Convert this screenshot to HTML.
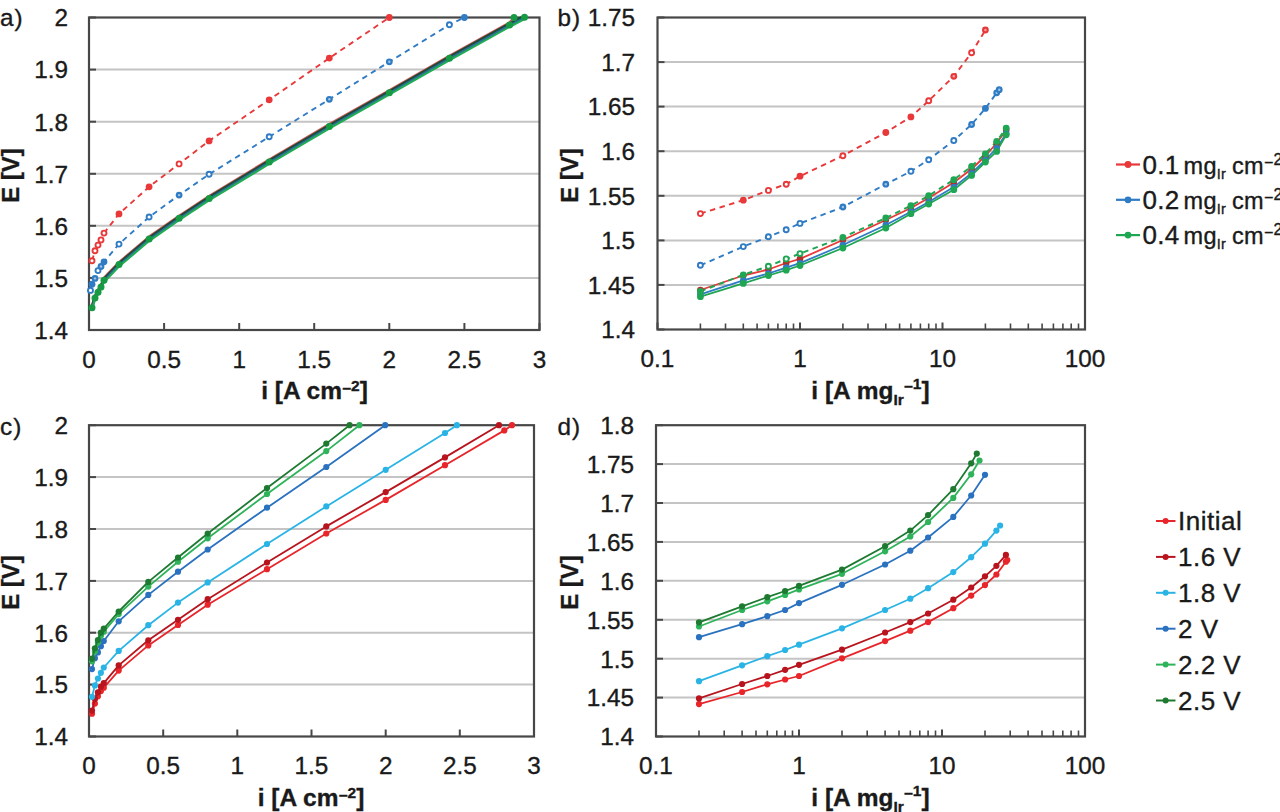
<!DOCTYPE html>
<html><head><meta charset="utf-8"><style>
html,body{margin:0;padding:0;background:#fff;width:1280px;height:812px;overflow:hidden}
svg{display:block}
</style></head><body>
<svg width="1280" height="812" viewBox="0 0 1280 812" font-family="Liberation Sans, sans-serif">
<rect width="1280" height="812" fill="#fff"/>
<g>
<line x1="89.0" y1="69.6" x2="539.5" y2="69.6" stroke="#c4c4c4" stroke-width="2"/>
<line x1="89.0" y1="121.7" x2="539.5" y2="121.7" stroke="#c4c4c4" stroke-width="2"/>
<line x1="89.0" y1="173.8" x2="539.5" y2="173.8" stroke="#c4c4c4" stroke-width="2"/>
<line x1="89.0" y1="225.8" x2="539.5" y2="225.8" stroke="#c4c4c4" stroke-width="2"/>
<line x1="89.0" y1="277.9" x2="539.5" y2="277.9" stroke="#c4c4c4" stroke-width="2"/>
<line x1="89.0" y1="17.5" x2="96.0" y2="17.5" stroke="#474747" stroke-width="2"/>
<line x1="89.0" y1="69.6" x2="96.0" y2="69.6" stroke="#474747" stroke-width="2"/>
<line x1="89.0" y1="121.7" x2="96.0" y2="121.7" stroke="#474747" stroke-width="2"/>
<line x1="89.0" y1="173.8" x2="96.0" y2="173.8" stroke="#474747" stroke-width="2"/>
<line x1="89.0" y1="225.8" x2="96.0" y2="225.8" stroke="#474747" stroke-width="2"/>
<line x1="89.0" y1="277.9" x2="96.0" y2="277.9" stroke="#474747" stroke-width="2"/>
<line x1="89.0" y1="330.0" x2="96.0" y2="330.0" stroke="#474747" stroke-width="2"/>
<line x1="89.0" y1="330.0" x2="89.0" y2="323.0" stroke="#474747" stroke-width="2"/>
<line x1="164.1" y1="330.0" x2="164.1" y2="323.0" stroke="#474747" stroke-width="2"/>
<line x1="239.2" y1="330.0" x2="239.2" y2="323.0" stroke="#474747" stroke-width="2"/>
<line x1="314.2" y1="330.0" x2="314.2" y2="323.0" stroke="#474747" stroke-width="2"/>
<line x1="389.3" y1="330.0" x2="389.3" y2="323.0" stroke="#474747" stroke-width="2"/>
<line x1="464.4" y1="330.0" x2="464.4" y2="323.0" stroke="#474747" stroke-width="2"/>
<line x1="539.5" y1="330.0" x2="539.5" y2="323.0" stroke="#474747" stroke-width="2"/>
<rect x="89.0" y="17.5" width="450.5" height="312.5" fill="none" stroke="#474747" stroke-width="2.2"/>
<text x="68" y="26.3" text-anchor="end" font-size="24.3" fill="#1a1a1a" stroke="#1a1a1a" stroke-width="0.35">2</text>
<text x="68" y="78.4" text-anchor="end" font-size="24.3" fill="#1a1a1a" stroke="#1a1a1a" stroke-width="0.35">1.9</text>
<text x="68" y="130.5" text-anchor="end" font-size="24.3" fill="#1a1a1a" stroke="#1a1a1a" stroke-width="0.35">1.8</text>
<text x="68" y="182.6" text-anchor="end" font-size="24.3" fill="#1a1a1a" stroke="#1a1a1a" stroke-width="0.35">1.7</text>
<text x="68" y="234.6" text-anchor="end" font-size="24.3" fill="#1a1a1a" stroke="#1a1a1a" stroke-width="0.35">1.6</text>
<text x="68" y="286.7" text-anchor="end" font-size="24.3" fill="#1a1a1a" stroke="#1a1a1a" stroke-width="0.35">1.5</text>
<text x="68" y="338.8" text-anchor="end" font-size="24.3" fill="#1a1a1a" stroke="#1a1a1a" stroke-width="0.35">1.4</text>
<text x="89.0" y="367.6" text-anchor="middle" font-size="24.3" fill="#1a1a1a" stroke="#1a1a1a" stroke-width="0.35">0</text>
<text x="164.1" y="367.6" text-anchor="middle" font-size="24.3" fill="#1a1a1a" stroke="#1a1a1a" stroke-width="0.35">0.5</text>
<text x="239.2" y="367.6" text-anchor="middle" font-size="24.3" fill="#1a1a1a" stroke="#1a1a1a" stroke-width="0.35">1</text>
<text x="314.2" y="367.6" text-anchor="middle" font-size="24.3" fill="#1a1a1a" stroke="#1a1a1a" stroke-width="0.35">1.5</text>
<text x="389.3" y="367.6" text-anchor="middle" font-size="24.3" fill="#1a1a1a" stroke="#1a1a1a" stroke-width="0.35">2</text>
<text x="464.4" y="367.6" text-anchor="middle" font-size="24.3" fill="#1a1a1a" stroke="#1a1a1a" stroke-width="0.35">2.5</text>
<text x="539.5" y="367.6" text-anchor="middle" font-size="24.3" fill="#1a1a1a" stroke="#1a1a1a" stroke-width="0.35">3</text>
<polyline points="92.0,305.1 95.0,295.2 98.0,289.5 101.0,284.3 104.0,277.5 119.0,261.9 149.1,236.4 179.1,215.5 209.1,195.8 269.2,159.3 329.3,123.9 389.3,90.0 449.4,55.6 509.5,22.3 514.0,17.5" fill="none" stroke="#d05a5a" stroke-width="2.0" stroke-linejoin="round"/>
<polyline points="92.0,306.5 95.0,296.6 98.0,290.9 101.0,285.7 104.0,278.9 119.0,263.3 149.1,237.8 179.1,216.9 209.1,197.2 269.2,160.7 329.3,125.3 389.3,91.4 449.4,57.0 509.5,23.7 524.5,15.9" fill="none" stroke="#1c4a34" stroke-width="2.6" stroke-linejoin="round"/>
<polyline points="92.0,308.3 95.0,298.4 98.0,292.7 101.0,287.5 104.0,280.7 119.0,265.1 149.1,239.6 179.1,218.7 209.1,198.9 269.2,162.5 329.3,127.1 389.3,93.2 449.4,58.8 509.5,25.5 524.5,17.7" fill="none" stroke="#2a6f9c" stroke-width="2.2" stroke-linejoin="round"/>
<polyline points="92.0,309.8 95.0,299.9 98.0,294.2 101.0,289.0 104.0,282.2 119.0,266.6 149.1,241.1 179.1,220.2 209.1,200.4 269.2,164.0 329.3,128.6 389.3,94.7 449.4,60.3 509.5,27.0 524.5,19.2" fill="none" stroke="#22ad52" stroke-width="2.0" stroke-linejoin="round"/>
<circle cx="92.0" cy="307.8" r="3.5" fill="#169a44"/>
<circle cx="95.0" cy="297.9" r="3.5" fill="#169a44"/>
<circle cx="98.0" cy="292.2" r="3.5" fill="#169a44"/>
<circle cx="101.0" cy="287.0" r="3.5" fill="#169a44"/>
<circle cx="104.0" cy="280.2" r="3.5" fill="#169a44"/>
<circle cx="119.0" cy="264.6" r="3.5" fill="#169a44"/>
<circle cx="149.1" cy="239.1" r="3.5" fill="#169a44"/>
<circle cx="179.1" cy="218.2" r="3.5" fill="#169a44"/>
<circle cx="209.1" cy="198.5" r="3.5" fill="#169a44"/>
<circle cx="269.2" cy="162.0" r="3.5" fill="#169a44"/>
<circle cx="329.3" cy="126.6" r="3.5" fill="#169a44"/>
<circle cx="389.3" cy="92.7" r="3.5" fill="#169a44"/>
<circle cx="449.4" cy="58.3" r="3.5" fill="#169a44"/>
<circle cx="509.5" cy="25.0" r="3.5" fill="#169a44"/>
<circle cx="524.5" cy="17.2" r="3.5" fill="#169a44"/>
<circle cx="514.0" cy="17.5" r="3.5" fill="#169a44"/>
<polyline points="90.5,290.4 92.0,284.2 95.0,278.4 98.0,270.6 101.0,266.5 104.0,261.8 119.0,244.1 149.1,217.0 179.1,195.1 209.1,174.3 269.2,136.8 329.3,99.3 389.3,61.8 449.4,24.8 464.4,17.5" fill="none" stroke="#2f7bc4" stroke-width="1.9" stroke-dasharray="5.5 4.5" stroke-linejoin="round"/>
<circle cx="90.5" cy="290.4" r="2.5" fill="#fff" stroke="#2f7bc4" stroke-width="1.9"/>
<circle cx="92.0" cy="284.2" r="3.4" fill="#2f7bc4"/>
<circle cx="95.0" cy="278.4" r="3.4" fill="#2f7bc4"/><circle cx="95.0" cy="278.4" r="1.2" fill="#fff" fill-opacity="0.55"/>
<circle cx="98.0" cy="270.6" r="2.5" fill="#fff" stroke="#2f7bc4" stroke-width="1.9"/>
<circle cx="101.0" cy="266.5" r="3.4" fill="#2f7bc4"/><circle cx="101.0" cy="266.5" r="1.2" fill="#fff" fill-opacity="0.55"/>
<circle cx="104.0" cy="261.8" r="3.4" fill="#2f7bc4"/>
<circle cx="119.0" cy="244.1" r="2.5" fill="#fff" stroke="#2f7bc4" stroke-width="1.9"/>
<circle cx="149.1" cy="217.0" r="2.5" fill="#fff" stroke="#2f7bc4" stroke-width="1.9"/>
<circle cx="179.1" cy="195.1" r="3.4" fill="#2f7bc4"/><circle cx="179.1" cy="195.1" r="1.2" fill="#fff" fill-opacity="0.55"/>
<circle cx="209.1" cy="174.3" r="2.5" fill="#fff" stroke="#2f7bc4" stroke-width="1.9"/>
<circle cx="269.2" cy="136.8" r="2.5" fill="#fff" stroke="#2f7bc4" stroke-width="1.9"/>
<circle cx="329.3" cy="99.3" r="3.4" fill="#2f7bc4"/><circle cx="329.3" cy="99.3" r="1.2" fill="#fff" fill-opacity="0.55"/>
<circle cx="389.3" cy="61.8" r="3.4" fill="#2f7bc4"/><circle cx="389.3" cy="61.8" r="1.2" fill="#fff" fill-opacity="0.55"/>
<circle cx="449.4" cy="24.8" r="2.5" fill="#fff" stroke="#2f7bc4" stroke-width="1.9"/>
<circle cx="464.4" cy="17.5" r="3.4" fill="#2f7bc4"/>
<polyline points="92.0,260.7 95.0,250.8 98.0,245.1 101.0,239.9 104.0,233.1 119.0,213.9 149.1,186.8 179.1,163.9 209.1,140.9 269.2,99.8 329.3,58.1 389.3,17.5" fill="none" stroke="#e8383a" stroke-width="1.9" stroke-dasharray="5.5 4.5" stroke-linejoin="round"/>
<circle cx="92.0" cy="260.7" r="2.5" fill="#fff" stroke="#e8383a" stroke-width="1.9"/>
<circle cx="95.0" cy="250.8" r="2.5" fill="#fff" stroke="#e8383a" stroke-width="1.9"/>
<circle cx="98.0" cy="245.1" r="2.5" fill="#fff" stroke="#e8383a" stroke-width="1.9"/>
<circle cx="101.0" cy="239.9" r="2.5" fill="#fff" stroke="#e8383a" stroke-width="1.9"/>
<circle cx="104.0" cy="233.1" r="2.5" fill="#fff" stroke="#e8383a" stroke-width="1.9"/>
<circle cx="119.0" cy="213.9" r="3.4" fill="#e8383a"/>
<circle cx="149.1" cy="186.8" r="3.4" fill="#e8383a"/>
<circle cx="179.1" cy="163.9" r="2.5" fill="#fff" stroke="#e8383a" stroke-width="1.9"/>
<circle cx="209.1" cy="140.9" r="3.4" fill="#e8383a"/>
<circle cx="269.2" cy="99.8" r="3.4" fill="#e8383a"/>
<circle cx="329.3" cy="58.1" r="3.4" fill="#e8383a"/>
<circle cx="389.3" cy="17.5" r="3.4" fill="#e8383a"/>
<text x="0" y="26.3" font-size="24.3" letter-spacing="1" fill="#1a1a1a" stroke="#1a1a1a" stroke-width="0.35">a)</text>
<text transform="translate(18.5,175.5) rotate(-90)" text-anchor="middle" font-size="24" font-weight="bold" fill="#1a1a1a" stroke="#1a1a1a" stroke-width="0.35">E [V]</text>
<text x="314.5" y="399" text-anchor="middle" font-size="24.5" font-weight="bold" fill="#1a1a1a" stroke="#1a1a1a" stroke-width="0.35">i [A cm<tspan font-size="15.5" dy="-5.5">−</tspan><tspan font-size="15.5" dy="-2.5">2</tspan><tspan dy="8">]</tspan></text>
<line x1="657.5" y1="62.1" x2="1085.0" y2="62.1" stroke="#c4c4c4" stroke-width="2"/>
<line x1="657.5" y1="106.6" x2="1085.0" y2="106.6" stroke="#c4c4c4" stroke-width="2"/>
<line x1="657.5" y1="151.2" x2="1085.0" y2="151.2" stroke="#c4c4c4" stroke-width="2"/>
<line x1="657.5" y1="195.8" x2="1085.0" y2="195.8" stroke="#c4c4c4" stroke-width="2"/>
<line x1="657.5" y1="240.4" x2="1085.0" y2="240.4" stroke="#c4c4c4" stroke-width="2"/>
<line x1="657.5" y1="284.9" x2="1085.0" y2="284.9" stroke="#c4c4c4" stroke-width="2"/>
<line x1="657.5" y1="17.5" x2="664.5" y2="17.5" stroke="#474747" stroke-width="2"/>
<line x1="657.5" y1="62.1" x2="664.5" y2="62.1" stroke="#474747" stroke-width="2"/>
<line x1="657.5" y1="106.6" x2="664.5" y2="106.6" stroke="#474747" stroke-width="2"/>
<line x1="657.5" y1="151.2" x2="664.5" y2="151.2" stroke="#474747" stroke-width="2"/>
<line x1="657.5" y1="195.8" x2="664.5" y2="195.8" stroke="#474747" stroke-width="2"/>
<line x1="657.5" y1="240.4" x2="664.5" y2="240.4" stroke="#474747" stroke-width="2"/>
<line x1="657.5" y1="284.9" x2="664.5" y2="284.9" stroke="#474747" stroke-width="2"/>
<line x1="657.5" y1="329.5" x2="664.5" y2="329.5" stroke="#474747" stroke-width="2"/>
<line x1="657.5" y1="329.5" x2="657.5" y2="322.5" stroke="#474747" stroke-width="2"/>
<line x1="800.0" y1="329.5" x2="800.0" y2="322.5" stroke="#474747" stroke-width="2"/>
<line x1="942.5" y1="329.5" x2="942.5" y2="322.5" stroke="#474747" stroke-width="2"/>
<line x1="1085.0" y1="329.5" x2="1085.0" y2="322.5" stroke="#474747" stroke-width="2"/>
<line x1="700.4" y1="329.5" x2="700.4" y2="323.5" stroke="#474747" stroke-width="1.6"/>
<line x1="725.5" y1="329.5" x2="725.5" y2="323.5" stroke="#474747" stroke-width="1.6"/>
<line x1="743.3" y1="329.5" x2="743.3" y2="323.5" stroke="#474747" stroke-width="1.6"/>
<line x1="757.1" y1="329.5" x2="757.1" y2="323.5" stroke="#474747" stroke-width="1.6"/>
<line x1="768.4" y1="329.5" x2="768.4" y2="323.5" stroke="#474747" stroke-width="1.6"/>
<line x1="777.9" y1="329.5" x2="777.9" y2="323.5" stroke="#474747" stroke-width="1.6"/>
<line x1="786.2" y1="329.5" x2="786.2" y2="323.5" stroke="#474747" stroke-width="1.6"/>
<line x1="793.5" y1="329.5" x2="793.5" y2="323.5" stroke="#474747" stroke-width="1.6"/>
<line x1="842.9" y1="329.5" x2="842.9" y2="323.5" stroke="#474747" stroke-width="1.6"/>
<line x1="868.0" y1="329.5" x2="868.0" y2="323.5" stroke="#474747" stroke-width="1.6"/>
<line x1="885.8" y1="329.5" x2="885.8" y2="323.5" stroke="#474747" stroke-width="1.6"/>
<line x1="899.6" y1="329.5" x2="899.6" y2="323.5" stroke="#474747" stroke-width="1.6"/>
<line x1="910.9" y1="329.5" x2="910.9" y2="323.5" stroke="#474747" stroke-width="1.6"/>
<line x1="920.4" y1="329.5" x2="920.4" y2="323.5" stroke="#474747" stroke-width="1.6"/>
<line x1="928.7" y1="329.5" x2="928.7" y2="323.5" stroke="#474747" stroke-width="1.6"/>
<line x1="936.0" y1="329.5" x2="936.0" y2="323.5" stroke="#474747" stroke-width="1.6"/>
<line x1="985.4" y1="329.5" x2="985.4" y2="323.5" stroke="#474747" stroke-width="1.6"/>
<line x1="1010.5" y1="329.5" x2="1010.5" y2="323.5" stroke="#474747" stroke-width="1.6"/>
<line x1="1028.3" y1="329.5" x2="1028.3" y2="323.5" stroke="#474747" stroke-width="1.6"/>
<line x1="1042.1" y1="329.5" x2="1042.1" y2="323.5" stroke="#474747" stroke-width="1.6"/>
<line x1="1053.4" y1="329.5" x2="1053.4" y2="323.5" stroke="#474747" stroke-width="1.6"/>
<line x1="1062.9" y1="329.5" x2="1062.9" y2="323.5" stroke="#474747" stroke-width="1.6"/>
<line x1="1071.2" y1="329.5" x2="1071.2" y2="323.5" stroke="#474747" stroke-width="1.6"/>
<line x1="1078.5" y1="329.5" x2="1078.5" y2="323.5" stroke="#474747" stroke-width="1.6"/>
<rect x="657.5" y="17.5" width="427.5" height="312.0" fill="none" stroke="#474747" stroke-width="2.2"/>
<text x="635" y="26.3" text-anchor="end" font-size="24.3" fill="#1a1a1a" stroke="#1a1a1a" stroke-width="0.35">1.75</text>
<text x="635" y="70.9" text-anchor="end" font-size="24.3" fill="#1a1a1a" stroke="#1a1a1a" stroke-width="0.35">1.7</text>
<text x="635" y="115.4" text-anchor="end" font-size="24.3" fill="#1a1a1a" stroke="#1a1a1a" stroke-width="0.35">1.65</text>
<text x="635" y="160.0" text-anchor="end" font-size="24.3" fill="#1a1a1a" stroke="#1a1a1a" stroke-width="0.35">1.6</text>
<text x="635" y="204.6" text-anchor="end" font-size="24.3" fill="#1a1a1a" stroke="#1a1a1a" stroke-width="0.35">1.55</text>
<text x="635" y="249.2" text-anchor="end" font-size="24.3" fill="#1a1a1a" stroke="#1a1a1a" stroke-width="0.35">1.5</text>
<text x="635" y="293.7" text-anchor="end" font-size="24.3" fill="#1a1a1a" stroke="#1a1a1a" stroke-width="0.35">1.45</text>
<text x="635" y="338.3" text-anchor="end" font-size="24.3" fill="#1a1a1a" stroke="#1a1a1a" stroke-width="0.35">1.4</text>
<text x="657.5" y="367.1" text-anchor="middle" font-size="24.3" fill="#1a1a1a" stroke="#1a1a1a" stroke-width="0.35">0.1</text>
<text x="800.0" y="367.1" text-anchor="middle" font-size="24.3" fill="#1a1a1a" stroke="#1a1a1a" stroke-width="0.35">1</text>
<text x="942.5" y="367.1" text-anchor="middle" font-size="24.3" fill="#1a1a1a" stroke="#1a1a1a" stroke-width="0.35">10</text>
<text x="1085.0" y="367.1" text-anchor="middle" font-size="24.3" fill="#1a1a1a" stroke="#1a1a1a" stroke-width="0.35">100</text>
<polyline points="700.4,290.0 743.3,275.5 768.4,269.5 786.2,263.0 800.0,258.9 842.9,240.0 885.8,220.0 910.9,208.0 928.7,198.0 953.8,182.5 971.6,169.0 985.4,156.0 996.7,143.0 1006.2,130.0" fill="none" stroke="#e8383a" stroke-width="1.8" stroke-linejoin="round"/>
<polyline points="700.4,294.4 743.3,280.4 768.4,273.5 786.2,267.6 800.0,263.2 842.9,245.0 885.8,225.0 910.9,211.8 928.7,202.0 953.8,187.1 971.6,173.2 985.4,160.0 996.7,148.2 1006.2,133.4" fill="none" stroke="#2f7bc4" stroke-width="1.8" stroke-linejoin="round"/>
<polyline points="700.4,296.7 743.3,283.4 768.4,275.5 786.2,270.2 800.0,265.5 842.9,248.0 885.8,228.0 910.9,213.7 928.7,204.0 953.8,189.7 971.6,175.4 985.4,162.0 996.7,151.4 1006.2,134.8" fill="none" stroke="#1fa653" stroke-width="1.8" stroke-linejoin="round"/>
<polyline points="700.4,291.4 743.3,274.8 768.4,266.2 786.2,258.9 800.0,253.6 842.9,237.3 885.8,218.0 910.9,205.7 928.7,195.7 953.8,179.7 971.6,166.4 985.4,153.8 996.7,141.4 1006.2,128.1" fill="none" stroke="#1fa653" stroke-width="2.0" stroke-dasharray="5.5 4.5" stroke-linejoin="round"/>
<circle cx="700.4" cy="290.0" r="3.3" fill="#b0302a"/>
<circle cx="743.3" cy="275.5" r="3.3" fill="#b0302a"/>
<circle cx="768.4" cy="269.5" r="3.3" fill="#b0302a"/>
<circle cx="786.2" cy="263.0" r="3.3" fill="#b0302a"/>
<circle cx="800.0" cy="258.9" r="3.3" fill="#b0302a"/>
<circle cx="842.9" cy="240.0" r="3.3" fill="#b0302a"/>
<circle cx="885.8" cy="220.0" r="3.3" fill="#b0302a"/>
<circle cx="910.9" cy="208.0" r="3.3" fill="#b0302a"/>
<circle cx="928.7" cy="198.0" r="3.3" fill="#b0302a"/>
<circle cx="953.8" cy="182.5" r="3.3" fill="#b0302a"/>
<circle cx="971.6" cy="169.0" r="3.3" fill="#b0302a"/>
<circle cx="985.4" cy="156.0" r="3.3" fill="#b0302a"/>
<circle cx="996.7" cy="143.0" r="3.3" fill="#b0302a"/>
<circle cx="1006.2" cy="130.0" r="3.3" fill="#b0302a"/>
<circle cx="700.4" cy="294.4" r="3.3" fill="#2f7bc4"/>
<circle cx="743.3" cy="280.4" r="3.3" fill="#2f7bc4"/>
<circle cx="768.4" cy="273.5" r="3.3" fill="#2f7bc4"/>
<circle cx="786.2" cy="267.6" r="3.3" fill="#2f7bc4"/>
<circle cx="800.0" cy="263.2" r="3.3" fill="#2f7bc4"/>
<circle cx="842.9" cy="245.0" r="3.3" fill="#2f7bc4"/>
<circle cx="885.8" cy="225.0" r="3.3" fill="#2f7bc4"/>
<circle cx="910.9" cy="211.8" r="3.3" fill="#2f7bc4"/>
<circle cx="928.7" cy="202.0" r="3.3" fill="#2f7bc4"/>
<circle cx="953.8" cy="187.1" r="3.3" fill="#2f7bc4"/>
<circle cx="971.6" cy="173.2" r="3.3" fill="#2f7bc4"/>
<circle cx="985.4" cy="160.0" r="3.3" fill="#2f7bc4"/>
<circle cx="996.7" cy="148.2" r="3.3" fill="#2f7bc4"/>
<circle cx="1006.2" cy="133.4" r="3.3" fill="#2f7bc4"/>
<circle cx="700.4" cy="296.7" r="3.4" fill="#1fa653"/>
<circle cx="743.3" cy="283.4" r="3.4" fill="#1fa653"/>
<circle cx="768.4" cy="275.5" r="3.4" fill="#1fa653"/>
<circle cx="786.2" cy="270.2" r="3.4" fill="#1fa653"/>
<circle cx="800.0" cy="265.5" r="3.4" fill="#1fa653"/>
<circle cx="842.9" cy="248.0" r="3.4" fill="#1fa653"/>
<circle cx="885.8" cy="228.0" r="3.4" fill="#1fa653"/>
<circle cx="910.9" cy="213.7" r="3.4" fill="#1fa653"/>
<circle cx="928.7" cy="204.0" r="3.4" fill="#1fa653"/>
<circle cx="953.8" cy="189.7" r="3.4" fill="#1fa653"/>
<circle cx="971.6" cy="175.4" r="3.4" fill="#1fa653"/>
<circle cx="985.4" cy="162.0" r="3.4" fill="#1fa653"/>
<circle cx="996.7" cy="151.4" r="3.4" fill="#1fa653"/>
<circle cx="1006.2" cy="134.8" r="3.4" fill="#1fa653"/>
<circle cx="700.4" cy="291.4" r="3.4" fill="#1fa653"/>
<circle cx="743.3" cy="274.8" r="3.4" fill="#1fa653"/>
<circle cx="768.4" cy="266.2" r="2.5" fill="#fff" stroke="#1fa653" stroke-width="1.9"/>
<circle cx="786.2" cy="258.9" r="2.5" fill="#fff" stroke="#1fa653" stroke-width="1.9"/>
<circle cx="800.0" cy="253.6" r="2.5" fill="#fff" stroke="#1fa653" stroke-width="1.9"/>
<circle cx="842.9" cy="237.3" r="3.4" fill="#1fa653"/>
<circle cx="885.8" cy="218.0" r="3.4" fill="#1fa653"/>
<circle cx="910.9" cy="205.7" r="3.4" fill="#1fa653"/>
<circle cx="928.7" cy="195.7" r="3.4" fill="#1fa653"/>
<circle cx="953.8" cy="179.7" r="3.4" fill="#1fa653"/>
<circle cx="971.6" cy="166.4" r="3.4" fill="#1fa653"/>
<circle cx="985.4" cy="153.8" r="3.4" fill="#1fa653"/>
<circle cx="996.7" cy="141.4" r="3.4" fill="#1fa653"/>
<circle cx="1006.2" cy="128.1" r="3.4" fill="#1fa653"/>
<polyline points="700.4,265.3 743.3,246.6 768.4,236.8 786.2,229.7 800.0,223.4 842.9,207.0 885.8,184.2 910.9,171.3 928.7,159.7 953.8,140.5 971.6,124.5 985.4,108.4 996.7,92.8 999.2,89.7" fill="none" stroke="#2f7bc4" stroke-width="1.9" stroke-dasharray="5.5 4.5" stroke-linejoin="round"/>
<circle cx="700.4" cy="265.3" r="2.5" fill="#fff" stroke="#2f7bc4" stroke-width="1.9"/>
<circle cx="743.3" cy="246.6" r="2.5" fill="#fff" stroke="#2f7bc4" stroke-width="1.9"/>
<circle cx="768.4" cy="236.8" r="2.5" fill="#fff" stroke="#2f7bc4" stroke-width="1.9"/>
<circle cx="786.2" cy="229.7" r="2.5" fill="#fff" stroke="#2f7bc4" stroke-width="1.9"/>
<circle cx="800.0" cy="223.4" r="2.5" fill="#fff" stroke="#2f7bc4" stroke-width="1.9"/>
<circle cx="842.9" cy="207.0" r="3.4" fill="#2f7bc4"/><circle cx="842.9" cy="207.0" r="1.2" fill="#fff" fill-opacity="0.55"/>
<circle cx="885.8" cy="184.2" r="3.4" fill="#2f7bc4"/><circle cx="885.8" cy="184.2" r="1.2" fill="#fff" fill-opacity="0.55"/>
<circle cx="910.9" cy="171.3" r="2.5" fill="#fff" stroke="#2f7bc4" stroke-width="1.9"/>
<circle cx="928.7" cy="159.7" r="2.5" fill="#fff" stroke="#2f7bc4" stroke-width="1.9"/>
<circle cx="953.8" cy="140.5" r="2.5" fill="#fff" stroke="#2f7bc4" stroke-width="1.9"/>
<circle cx="971.6" cy="124.5" r="3.4" fill="#2f7bc4"/><circle cx="971.6" cy="124.5" r="1.2" fill="#fff" fill-opacity="0.55"/>
<circle cx="985.4" cy="108.4" r="3.4" fill="#2f7bc4"/>
<circle cx="996.7" cy="92.8" r="3.4" fill="#2f7bc4"/><circle cx="996.7" cy="92.8" r="1.2" fill="#fff" fill-opacity="0.55"/>
<circle cx="999.2" cy="89.7" r="3.4" fill="#2f7bc4"/><circle cx="999.2" cy="89.7" r="1.2" fill="#fff" fill-opacity="0.55"/>
<polyline points="700.4,213.6 743.3,200.2 768.4,190.4 786.2,184.2 800.0,176.2 842.9,155.7 885.8,132.5 910.9,116.9 928.7,100.8 953.8,76.3 971.6,52.7 985.4,30.0" fill="none" stroke="#e8383a" stroke-width="1.9" stroke-dasharray="5.5 4.5" stroke-linejoin="round"/>
<circle cx="700.4" cy="213.6" r="2.5" fill="#fff" stroke="#e8383a" stroke-width="1.9"/>
<circle cx="743.3" cy="200.2" r="3.4" fill="#e8383a"/>
<circle cx="768.4" cy="190.4" r="2.5" fill="#fff" stroke="#e8383a" stroke-width="1.9"/>
<circle cx="786.2" cy="184.2" r="2.5" fill="#fff" stroke="#e8383a" stroke-width="1.9"/>
<circle cx="800.0" cy="176.2" r="3.4" fill="#e8383a"/>
<circle cx="842.9" cy="155.7" r="2.5" fill="#fff" stroke="#e8383a" stroke-width="1.9"/>
<circle cx="885.8" cy="132.5" r="3.4" fill="#e8383a"/>
<circle cx="910.9" cy="116.9" r="3.4" fill="#e8383a"/>
<circle cx="928.7" cy="100.8" r="2.5" fill="#fff" stroke="#e8383a" stroke-width="1.9"/>
<circle cx="953.8" cy="76.3" r="3.4" fill="#e8383a"/><circle cx="953.8" cy="76.3" r="1.2" fill="#fff" fill-opacity="0.55"/>
<circle cx="971.6" cy="52.7" r="2.5" fill="#fff" stroke="#e8383a" stroke-width="1.9"/>
<circle cx="985.4" cy="30.0" r="3.4" fill="#e8383a"/><circle cx="985.4" cy="30.0" r="1.2" fill="#fff" fill-opacity="0.55"/>
<text x="557.5" y="26.3" font-size="24.3" letter-spacing="1" fill="#1a1a1a" stroke="#1a1a1a" stroke-width="0.35">b)</text>
<text transform="translate(577.5,175.5) rotate(-90)" text-anchor="middle" font-size="24" font-weight="bold" fill="#1a1a1a" stroke="#1a1a1a" stroke-width="0.35">E [V]</text>
<text x="870.5" y="399" text-anchor="middle" font-size="24.5" font-weight="bold" fill="#1a1a1a" stroke="#1a1a1a" stroke-width="0.35">i [A mg<tspan font-size="15.5" dy="6">Ir</tspan><tspan font-size="15.5" dy="-13">−</tspan><tspan font-size="15.5" dy="-3">1</tspan><tspan dy="10">]</tspan></text>
<line x1="1116" y1="164.5" x2="1140" y2="164.5" stroke="#e8383a" stroke-width="2.2"/>
<circle cx="1128" cy="164.5" r="3.4" fill="#e8383a"/>
<text x="1142.5" y="173.8" font-size="26" letter-spacing="0.3" fill="#1a1a1a" stroke="#1a1a1a" stroke-width="0.35">0.1</text>
<text x="1183.5" y="173.8" font-size="23.5" letter-spacing="0.3" fill="#1a1a1a" stroke="#1a1a1a" stroke-width="0.35">mg<tspan font-size="14.5" dy="5">Ir</tspan><tspan x="1232" dy="-5">cm</tspan><tspan font-size="16" dy="-6">−</tspan><tspan font-size="16" dy="-3">2</tspan></text>
<line x1="1116" y1="199.8" x2="1140" y2="199.8" stroke="#2f7bc4" stroke-width="2.2"/>
<circle cx="1128" cy="199.8" r="3.4" fill="#2f7bc4"/>
<text x="1142.5" y="209.10000000000002" font-size="26" letter-spacing="0.3" fill="#1a1a1a" stroke="#1a1a1a" stroke-width="0.35">0.2</text>
<text x="1183.5" y="209.10000000000002" font-size="23.5" letter-spacing="0.3" fill="#1a1a1a" stroke="#1a1a1a" stroke-width="0.35">mg<tspan font-size="14.5" dy="5">Ir</tspan><tspan x="1232" dy="-5">cm</tspan><tspan font-size="16" dy="-6">−</tspan><tspan font-size="16" dy="-3">2</tspan></text>
<line x1="1116" y1="235.1" x2="1140" y2="235.1" stroke="#1fa653" stroke-width="2.2"/>
<circle cx="1128" cy="235.1" r="3.4" fill="#1fa653"/>
<text x="1142.5" y="244.4" font-size="26" letter-spacing="0.3" fill="#1a1a1a" stroke="#1a1a1a" stroke-width="0.35">0.4</text>
<text x="1183.5" y="244.4" font-size="23.5" letter-spacing="0.3" fill="#1a1a1a" stroke="#1a1a1a" stroke-width="0.35">mg<tspan font-size="14.5" dy="5">Ir</tspan><tspan x="1232" dy="-5">cm</tspan><tspan font-size="16" dy="-6">−</tspan><tspan font-size="16" dy="-3">2</tspan></text>
<line x1="89.0" y1="477.1" x2="534.0" y2="477.1" stroke="#c4c4c4" stroke-width="2"/>
<line x1="89.0" y1="529.0" x2="534.0" y2="529.0" stroke="#c4c4c4" stroke-width="2"/>
<line x1="89.0" y1="580.9" x2="534.0" y2="580.9" stroke="#c4c4c4" stroke-width="2"/>
<line x1="89.0" y1="632.7" x2="534.0" y2="632.7" stroke="#c4c4c4" stroke-width="2"/>
<line x1="89.0" y1="684.6" x2="534.0" y2="684.6" stroke="#c4c4c4" stroke-width="2"/>
<line x1="89.0" y1="425.2" x2="96.0" y2="425.2" stroke="#474747" stroke-width="2"/>
<line x1="89.0" y1="477.1" x2="96.0" y2="477.1" stroke="#474747" stroke-width="2"/>
<line x1="89.0" y1="529.0" x2="96.0" y2="529.0" stroke="#474747" stroke-width="2"/>
<line x1="89.0" y1="580.9" x2="96.0" y2="580.9" stroke="#474747" stroke-width="2"/>
<line x1="89.0" y1="632.7" x2="96.0" y2="632.7" stroke="#474747" stroke-width="2"/>
<line x1="89.0" y1="684.6" x2="96.0" y2="684.6" stroke="#474747" stroke-width="2"/>
<line x1="89.0" y1="736.5" x2="96.0" y2="736.5" stroke="#474747" stroke-width="2"/>
<line x1="89.0" y1="736.5" x2="89.0" y2="729.5" stroke="#474747" stroke-width="2"/>
<line x1="163.2" y1="736.5" x2="163.2" y2="729.5" stroke="#474747" stroke-width="2"/>
<line x1="237.3" y1="736.5" x2="237.3" y2="729.5" stroke="#474747" stroke-width="2"/>
<line x1="311.5" y1="736.5" x2="311.5" y2="729.5" stroke="#474747" stroke-width="2"/>
<line x1="385.7" y1="736.5" x2="385.7" y2="729.5" stroke="#474747" stroke-width="2"/>
<line x1="459.8" y1="736.5" x2="459.8" y2="729.5" stroke="#474747" stroke-width="2"/>
<line x1="534.0" y1="736.5" x2="534.0" y2="729.5" stroke="#474747" stroke-width="2"/>
<rect x="89.0" y="425.2" width="445.0" height="311.3" fill="none" stroke="#474747" stroke-width="2.2"/>
<text x="68" y="434.0" text-anchor="end" font-size="24.3" fill="#1a1a1a" stroke="#1a1a1a" stroke-width="0.35">2</text>
<text x="68" y="485.9" text-anchor="end" font-size="24.3" fill="#1a1a1a" stroke="#1a1a1a" stroke-width="0.35">1.9</text>
<text x="68" y="537.8" text-anchor="end" font-size="24.3" fill="#1a1a1a" stroke="#1a1a1a" stroke-width="0.35">1.8</text>
<text x="68" y="589.6" text-anchor="end" font-size="24.3" fill="#1a1a1a" stroke="#1a1a1a" stroke-width="0.35">1.7</text>
<text x="68" y="641.5" text-anchor="end" font-size="24.3" fill="#1a1a1a" stroke="#1a1a1a" stroke-width="0.35">1.6</text>
<text x="68" y="693.4" text-anchor="end" font-size="24.3" fill="#1a1a1a" stroke="#1a1a1a" stroke-width="0.35">1.5</text>
<text x="68" y="745.3" text-anchor="end" font-size="24.3" fill="#1a1a1a" stroke="#1a1a1a" stroke-width="0.35">1.4</text>
<text x="89.0" y="774.1" text-anchor="middle" font-size="24.3" fill="#1a1a1a" stroke="#1a1a1a" stroke-width="0.35">0</text>
<text x="163.2" y="774.1" text-anchor="middle" font-size="24.3" fill="#1a1a1a" stroke="#1a1a1a" stroke-width="0.35">0.5</text>
<text x="237.3" y="774.1" text-anchor="middle" font-size="24.3" fill="#1a1a1a" stroke="#1a1a1a" stroke-width="0.35">1</text>
<text x="311.5" y="774.1" text-anchor="middle" font-size="24.3" fill="#1a1a1a" stroke="#1a1a1a" stroke-width="0.35">1.5</text>
<text x="385.7" y="774.1" text-anchor="middle" font-size="24.3" fill="#1a1a1a" stroke="#1a1a1a" stroke-width="0.35">2</text>
<text x="459.8" y="774.1" text-anchor="middle" font-size="24.3" fill="#1a1a1a" stroke="#1a1a1a" stroke-width="0.35">2.5</text>
<text x="534.0" y="774.1" text-anchor="middle" font-size="24.3" fill="#1a1a1a" stroke="#1a1a1a" stroke-width="0.35">3</text>
<polyline points="92.0,713.7 94.9,703.6 97.9,696.3 100.9,691.1 103.8,687.7 118.7,670.6 148.3,645.4 178.0,625.0 207.7,604.7 267.0,569.2 326.3,533.5 385.7,499.9 445.0,465.2 504.3,430.4 512.0,425.2" fill="none" stroke="#e8252a" stroke-width="1.8" stroke-linejoin="round"/>
<circle cx="92.0" cy="713.7" r="3.1" fill="#e8252a"/>
<circle cx="94.9" cy="703.6" r="3.1" fill="#e8252a"/>
<circle cx="97.9" cy="696.3" r="3.1" fill="#e8252a"/>
<circle cx="100.9" cy="691.1" r="3.1" fill="#e8252a"/>
<circle cx="103.8" cy="687.7" r="3.1" fill="#e8252a"/>
<circle cx="118.7" cy="670.6" r="3.1" fill="#e8252a"/>
<circle cx="148.3" cy="645.4" r="3.1" fill="#e8252a"/>
<circle cx="178.0" cy="625.0" r="3.1" fill="#e8252a"/>
<circle cx="207.7" cy="604.7" r="3.1" fill="#e8252a"/>
<circle cx="267.0" cy="569.2" r="3.1" fill="#e8252a"/>
<circle cx="326.3" cy="533.5" r="3.1" fill="#e8252a"/>
<circle cx="385.7" cy="499.9" r="3.1" fill="#e8252a"/>
<circle cx="445.0" cy="465.2" r="3.1" fill="#e8252a"/>
<circle cx="504.3" cy="430.4" r="3.1" fill="#e8252a"/>
<circle cx="512.0" cy="425.2" r="3.1" fill="#e8252a"/>
<polyline points="92.0,710.6 94.9,699.1 97.9,692.4 100.9,686.7 103.8,683.1 118.7,665.4 148.3,640.3 178.0,619.8 207.7,599.2 267.0,562.5 326.3,526.4 385.7,492.1 445.0,457.4 499.0,425.2" fill="none" stroke="#b8141e" stroke-width="1.8" stroke-linejoin="round"/>
<circle cx="92.0" cy="710.6" r="3.1" fill="#b8141e"/>
<circle cx="94.9" cy="699.1" r="3.1" fill="#b8141e"/>
<circle cx="97.9" cy="692.4" r="3.1" fill="#b8141e"/>
<circle cx="100.9" cy="686.7" r="3.1" fill="#b8141e"/>
<circle cx="103.8" cy="683.1" r="3.1" fill="#b8141e"/>
<circle cx="118.7" cy="665.4" r="3.1" fill="#b8141e"/>
<circle cx="148.3" cy="640.3" r="3.1" fill="#b8141e"/>
<circle cx="178.0" cy="619.8" r="3.1" fill="#b8141e"/>
<circle cx="207.7" cy="599.2" r="3.1" fill="#b8141e"/>
<circle cx="267.0" cy="562.5" r="3.1" fill="#b8141e"/>
<circle cx="326.3" cy="526.4" r="3.1" fill="#b8141e"/>
<circle cx="385.7" cy="492.1" r="3.1" fill="#b8141e"/>
<circle cx="445.0" cy="457.4" r="3.1" fill="#b8141e"/>
<circle cx="499.0" cy="425.2" r="3.1" fill="#b8141e"/>
<polyline points="92.0,696.8 94.9,685.4 97.9,678.5 100.9,672.8 103.8,667.5 118.7,650.9 148.3,625.2 178.0,602.6 207.7,582.4 267.0,544.0 326.3,506.4 385.7,469.8 445.0,433.0 456.9,425.2" fill="none" stroke="#2ab4e6" stroke-width="1.8" stroke-linejoin="round"/>
<circle cx="92.0" cy="696.8" r="3.1" fill="#2ab4e6"/>
<circle cx="94.9" cy="685.4" r="3.1" fill="#2ab4e6"/>
<circle cx="97.9" cy="678.5" r="3.1" fill="#2ab4e6"/>
<circle cx="100.9" cy="672.8" r="3.1" fill="#2ab4e6"/>
<circle cx="103.8" cy="667.5" r="3.1" fill="#2ab4e6"/>
<circle cx="118.7" cy="650.9" r="3.1" fill="#2ab4e6"/>
<circle cx="148.3" cy="625.2" r="3.1" fill="#2ab4e6"/>
<circle cx="178.0" cy="602.6" r="3.1" fill="#2ab4e6"/>
<circle cx="207.7" cy="582.4" r="3.1" fill="#2ab4e6"/>
<circle cx="267.0" cy="544.0" r="3.1" fill="#2ab4e6"/>
<circle cx="326.3" cy="506.4" r="3.1" fill="#2ab4e6"/>
<circle cx="385.7" cy="469.8" r="3.1" fill="#2ab4e6"/>
<circle cx="445.0" cy="433.0" r="3.1" fill="#2ab4e6"/>
<circle cx="456.9" cy="425.2" r="3.1" fill="#2ab4e6"/>
<polyline points="92.0,669.1 94.9,658.2 97.9,652.4 100.9,646.2 103.8,641.0 118.7,621.3 148.3,594.9 178.0,571.7 207.7,549.5 267.0,507.7 326.3,467.0 385.2,425.2" fill="none" stroke="#2a72c0" stroke-width="1.8" stroke-linejoin="round"/>
<circle cx="92.0" cy="669.1" r="3.1" fill="#2a72c0"/>
<circle cx="94.9" cy="658.2" r="3.1" fill="#2a72c0"/>
<circle cx="97.9" cy="652.4" r="3.1" fill="#2a72c0"/>
<circle cx="100.9" cy="646.2" r="3.1" fill="#2a72c0"/>
<circle cx="103.8" cy="641.0" r="3.1" fill="#2a72c0"/>
<circle cx="118.7" cy="621.3" r="3.1" fill="#2a72c0"/>
<circle cx="148.3" cy="594.9" r="3.1" fill="#2a72c0"/>
<circle cx="178.0" cy="571.7" r="3.1" fill="#2a72c0"/>
<circle cx="207.7" cy="549.5" r="3.1" fill="#2a72c0"/>
<circle cx="267.0" cy="507.7" r="3.1" fill="#2a72c0"/>
<circle cx="326.3" cy="467.0" r="3.1" fill="#2a72c0"/>
<circle cx="385.2" cy="425.2" r="3.1" fill="#2a72c0"/>
<polyline points="92.0,661.3 94.9,651.4 97.9,642.6 100.9,635.8 103.8,631.7 118.7,614.1 148.3,586.6 178.0,561.7 207.7,538.3 267.0,494.0 326.3,451.1 359.4,425.2" fill="none" stroke="#2fb35a" stroke-width="1.8" stroke-linejoin="round"/>
<circle cx="92.0" cy="661.3" r="3.1" fill="#2fb35a"/>
<circle cx="94.9" cy="651.4" r="3.1" fill="#2fb35a"/>
<circle cx="97.9" cy="642.6" r="3.1" fill="#2fb35a"/>
<circle cx="100.9" cy="635.8" r="3.1" fill="#2fb35a"/>
<circle cx="103.8" cy="631.7" r="3.1" fill="#2fb35a"/>
<circle cx="118.7" cy="614.1" r="3.1" fill="#2fb35a"/>
<circle cx="148.3" cy="586.6" r="3.1" fill="#2fb35a"/>
<circle cx="178.0" cy="561.7" r="3.1" fill="#2fb35a"/>
<circle cx="207.7" cy="538.3" r="3.1" fill="#2fb35a"/>
<circle cx="267.0" cy="494.0" r="3.1" fill="#2fb35a"/>
<circle cx="326.3" cy="451.1" r="3.1" fill="#2fb35a"/>
<circle cx="359.4" cy="425.2" r="3.1" fill="#2fb35a"/>
<polyline points="92.0,658.7 94.9,648.3 97.9,640.0 100.9,632.7 103.8,628.6 118.7,611.5 148.3,581.9 178.0,557.5 207.7,533.5 267.0,488.0 326.3,443.6 349.6,425.2" fill="none" stroke="#1d7a30" stroke-width="1.8" stroke-linejoin="round"/>
<circle cx="92.0" cy="658.7" r="3.1" fill="#1d7a30"/>
<circle cx="94.9" cy="648.3" r="3.1" fill="#1d7a30"/>
<circle cx="97.9" cy="640.0" r="3.1" fill="#1d7a30"/>
<circle cx="100.9" cy="632.7" r="3.1" fill="#1d7a30"/>
<circle cx="103.8" cy="628.6" r="3.1" fill="#1d7a30"/>
<circle cx="118.7" cy="611.5" r="3.1" fill="#1d7a30"/>
<circle cx="148.3" cy="581.9" r="3.1" fill="#1d7a30"/>
<circle cx="178.0" cy="557.5" r="3.1" fill="#1d7a30"/>
<circle cx="207.7" cy="533.5" r="3.1" fill="#1d7a30"/>
<circle cx="267.0" cy="488.0" r="3.1" fill="#1d7a30"/>
<circle cx="326.3" cy="443.6" r="3.1" fill="#1d7a30"/>
<circle cx="349.6" cy="425.2" r="3.1" fill="#1d7a30"/>
<text x="0" y="434.5" font-size="24.3" letter-spacing="1" fill="#1a1a1a" stroke="#1a1a1a" stroke-width="0.35">c)</text>
<text transform="translate(18.5,582.5) rotate(-90)" text-anchor="middle" font-size="24" font-weight="bold" fill="#1a1a1a" stroke="#1a1a1a" stroke-width="0.35">E [V]</text>
<text x="311" y="806" text-anchor="middle" font-size="24.5" font-weight="bold" fill="#1a1a1a" stroke="#1a1a1a" stroke-width="0.35">i [A cm<tspan font-size="15.5" dy="-5.5">−</tspan><tspan font-size="15.5" dy="-2.5">2</tspan><tspan dy="8">]</tspan></text>
<line x1="656.0" y1="464.1" x2="1085.0" y2="464.1" stroke="#c4c4c4" stroke-width="2"/>
<line x1="656.0" y1="503.0" x2="1085.0" y2="503.0" stroke="#c4c4c4" stroke-width="2"/>
<line x1="656.0" y1="541.9" x2="1085.0" y2="541.9" stroke="#c4c4c4" stroke-width="2"/>
<line x1="656.0" y1="580.8" x2="1085.0" y2="580.8" stroke="#c4c4c4" stroke-width="2"/>
<line x1="656.0" y1="619.8" x2="1085.0" y2="619.8" stroke="#c4c4c4" stroke-width="2"/>
<line x1="656.0" y1="658.7" x2="1085.0" y2="658.7" stroke="#c4c4c4" stroke-width="2"/>
<line x1="656.0" y1="697.6" x2="1085.0" y2="697.6" stroke="#c4c4c4" stroke-width="2"/>
<line x1="656.0" y1="425.2" x2="663.0" y2="425.2" stroke="#474747" stroke-width="2"/>
<line x1="656.0" y1="464.1" x2="663.0" y2="464.1" stroke="#474747" stroke-width="2"/>
<line x1="656.0" y1="503.0" x2="663.0" y2="503.0" stroke="#474747" stroke-width="2"/>
<line x1="656.0" y1="541.9" x2="663.0" y2="541.9" stroke="#474747" stroke-width="2"/>
<line x1="656.0" y1="580.8" x2="663.0" y2="580.8" stroke="#474747" stroke-width="2"/>
<line x1="656.0" y1="619.8" x2="663.0" y2="619.8" stroke="#474747" stroke-width="2"/>
<line x1="656.0" y1="658.7" x2="663.0" y2="658.7" stroke="#474747" stroke-width="2"/>
<line x1="656.0" y1="697.6" x2="663.0" y2="697.6" stroke="#474747" stroke-width="2"/>
<line x1="656.0" y1="736.5" x2="663.0" y2="736.5" stroke="#474747" stroke-width="2"/>
<line x1="656.0" y1="736.5" x2="656.0" y2="729.5" stroke="#474747" stroke-width="2"/>
<line x1="799.0" y1="736.5" x2="799.0" y2="729.5" stroke="#474747" stroke-width="2"/>
<line x1="942.0" y1="736.5" x2="942.0" y2="729.5" stroke="#474747" stroke-width="2"/>
<line x1="1085.0" y1="736.5" x2="1085.0" y2="729.5" stroke="#474747" stroke-width="2"/>
<line x1="699.0" y1="736.5" x2="699.0" y2="730.5" stroke="#474747" stroke-width="1.6"/>
<line x1="724.2" y1="736.5" x2="724.2" y2="730.5" stroke="#474747" stroke-width="1.6"/>
<line x1="742.1" y1="736.5" x2="742.1" y2="730.5" stroke="#474747" stroke-width="1.6"/>
<line x1="756.0" y1="736.5" x2="756.0" y2="730.5" stroke="#474747" stroke-width="1.6"/>
<line x1="767.3" y1="736.5" x2="767.3" y2="730.5" stroke="#474747" stroke-width="1.6"/>
<line x1="776.8" y1="736.5" x2="776.8" y2="730.5" stroke="#474747" stroke-width="1.6"/>
<line x1="785.1" y1="736.5" x2="785.1" y2="730.5" stroke="#474747" stroke-width="1.6"/>
<line x1="792.5" y1="736.5" x2="792.5" y2="730.5" stroke="#474747" stroke-width="1.6"/>
<line x1="842.0" y1="736.5" x2="842.0" y2="730.5" stroke="#474747" stroke-width="1.6"/>
<line x1="867.2" y1="736.5" x2="867.2" y2="730.5" stroke="#474747" stroke-width="1.6"/>
<line x1="885.1" y1="736.5" x2="885.1" y2="730.5" stroke="#474747" stroke-width="1.6"/>
<line x1="899.0" y1="736.5" x2="899.0" y2="730.5" stroke="#474747" stroke-width="1.6"/>
<line x1="910.3" y1="736.5" x2="910.3" y2="730.5" stroke="#474747" stroke-width="1.6"/>
<line x1="919.8" y1="736.5" x2="919.8" y2="730.5" stroke="#474747" stroke-width="1.6"/>
<line x1="928.1" y1="736.5" x2="928.1" y2="730.5" stroke="#474747" stroke-width="1.6"/>
<line x1="935.5" y1="736.5" x2="935.5" y2="730.5" stroke="#474747" stroke-width="1.6"/>
<line x1="985.0" y1="736.5" x2="985.0" y2="730.5" stroke="#474747" stroke-width="1.6"/>
<line x1="1010.2" y1="736.5" x2="1010.2" y2="730.5" stroke="#474747" stroke-width="1.6"/>
<line x1="1028.1" y1="736.5" x2="1028.1" y2="730.5" stroke="#474747" stroke-width="1.6"/>
<line x1="1042.0" y1="736.5" x2="1042.0" y2="730.5" stroke="#474747" stroke-width="1.6"/>
<line x1="1053.3" y1="736.5" x2="1053.3" y2="730.5" stroke="#474747" stroke-width="1.6"/>
<line x1="1062.8" y1="736.5" x2="1062.8" y2="730.5" stroke="#474747" stroke-width="1.6"/>
<line x1="1071.1" y1="736.5" x2="1071.1" y2="730.5" stroke="#474747" stroke-width="1.6"/>
<line x1="1078.5" y1="736.5" x2="1078.5" y2="730.5" stroke="#474747" stroke-width="1.6"/>
<rect x="656.0" y="425.2" width="429.0" height="311.3" fill="none" stroke="#474747" stroke-width="2.2"/>
<text x="634" y="434.0" text-anchor="end" font-size="24.3" fill="#1a1a1a" stroke="#1a1a1a" stroke-width="0.35">1.8</text>
<text x="634" y="472.9" text-anchor="end" font-size="24.3" fill="#1a1a1a" stroke="#1a1a1a" stroke-width="0.35">1.75</text>
<text x="634" y="511.8" text-anchor="end" font-size="24.3" fill="#1a1a1a" stroke="#1a1a1a" stroke-width="0.35">1.7</text>
<text x="634" y="550.7" text-anchor="end" font-size="24.3" fill="#1a1a1a" stroke="#1a1a1a" stroke-width="0.35">1.65</text>
<text x="634" y="589.6" text-anchor="end" font-size="24.3" fill="#1a1a1a" stroke="#1a1a1a" stroke-width="0.35">1.6</text>
<text x="634" y="628.6" text-anchor="end" font-size="24.3" fill="#1a1a1a" stroke="#1a1a1a" stroke-width="0.35">1.55</text>
<text x="634" y="667.5" text-anchor="end" font-size="24.3" fill="#1a1a1a" stroke="#1a1a1a" stroke-width="0.35">1.5</text>
<text x="634" y="706.4" text-anchor="end" font-size="24.3" fill="#1a1a1a" stroke="#1a1a1a" stroke-width="0.35">1.45</text>
<text x="634" y="745.3" text-anchor="end" font-size="24.3" fill="#1a1a1a" stroke="#1a1a1a" stroke-width="0.35">1.4</text>
<text x="656.0" y="774.1" text-anchor="middle" font-size="24.3" fill="#1a1a1a" stroke="#1a1a1a" stroke-width="0.35">0.1</text>
<text x="799.0" y="774.1" text-anchor="middle" font-size="24.3" fill="#1a1a1a" stroke="#1a1a1a" stroke-width="0.35">1</text>
<text x="942.0" y="774.1" text-anchor="middle" font-size="24.3" fill="#1a1a1a" stroke="#1a1a1a" stroke-width="0.35">10</text>
<text x="1085.0" y="774.1" text-anchor="middle" font-size="24.3" fill="#1a1a1a" stroke="#1a1a1a" stroke-width="0.35">100</text>
<polyline points="699.0,704.1 742.1,692.0 767.3,684.3 785.1,679.5 799.0,676.0 842.0,658.3 885.1,641.1 910.3,630.7 928.1,622.1 953.3,608.2 971.2,595.6 985.0,585.1 996.4,574.5 1005.9,561.7 1007.3,560.0" fill="none" stroke="#e8252a" stroke-width="1.8" stroke-linejoin="round"/>
<circle cx="699.0" cy="704.1" r="3.1" fill="#e8252a"/>
<circle cx="742.1" cy="692.0" r="3.1" fill="#e8252a"/>
<circle cx="767.3" cy="684.3" r="3.1" fill="#e8252a"/>
<circle cx="785.1" cy="679.5" r="3.1" fill="#e8252a"/>
<circle cx="799.0" cy="676.0" r="3.1" fill="#e8252a"/>
<circle cx="842.0" cy="658.3" r="3.1" fill="#e8252a"/>
<circle cx="885.1" cy="641.1" r="3.1" fill="#e8252a"/>
<circle cx="910.3" cy="630.7" r="3.1" fill="#e8252a"/>
<circle cx="928.1" cy="622.1" r="3.1" fill="#e8252a"/>
<circle cx="953.3" cy="608.2" r="3.1" fill="#e8252a"/>
<circle cx="971.2" cy="595.6" r="3.1" fill="#e8252a"/>
<circle cx="985.0" cy="585.1" r="3.1" fill="#e8252a"/>
<circle cx="996.4" cy="574.5" r="3.1" fill="#e8252a"/>
<circle cx="1005.9" cy="561.7" r="3.1" fill="#e8252a"/>
<circle cx="1007.3" cy="560.0" r="3.1" fill="#e8252a"/>
<polyline points="699.0,698.4 742.1,684.0 767.3,676.0 785.1,669.8 799.0,664.8 842.0,649.7 885.1,632.5 910.3,622.1 928.1,613.5 953.3,599.7 971.2,587.5 985.0,576.3 996.4,565.8 1005.9,554.9" fill="none" stroke="#b8141e" stroke-width="1.8" stroke-linejoin="round"/>
<circle cx="699.0" cy="698.4" r="3.1" fill="#b8141e"/>
<circle cx="742.1" cy="684.0" r="3.1" fill="#b8141e"/>
<circle cx="767.3" cy="676.0" r="3.1" fill="#b8141e"/>
<circle cx="785.1" cy="669.8" r="3.1" fill="#b8141e"/>
<circle cx="799.0" cy="664.8" r="3.1" fill="#b8141e"/>
<circle cx="842.0" cy="649.7" r="3.1" fill="#b8141e"/>
<circle cx="885.1" cy="632.5" r="3.1" fill="#b8141e"/>
<circle cx="910.3" cy="622.1" r="3.1" fill="#b8141e"/>
<circle cx="928.1" cy="613.5" r="3.1" fill="#b8141e"/>
<circle cx="953.3" cy="599.7" r="3.1" fill="#b8141e"/>
<circle cx="971.2" cy="587.5" r="3.1" fill="#b8141e"/>
<circle cx="985.0" cy="576.3" r="3.1" fill="#b8141e"/>
<circle cx="996.4" cy="565.8" r="3.1" fill="#b8141e"/>
<circle cx="1005.9" cy="554.9" r="3.1" fill="#b8141e"/>
<polyline points="699.0,681.2 742.1,665.3 767.3,656.2 785.1,650.0 799.0,644.7 842.0,628.3 885.1,610.0 910.3,598.7 928.1,588.2 953.3,572.1 971.2,557.2 985.0,543.7 996.4,530.6 1000.1,525.5" fill="none" stroke="#2ab4e6" stroke-width="1.8" stroke-linejoin="round"/>
<circle cx="699.0" cy="681.2" r="3.1" fill="#2ab4e6"/>
<circle cx="742.1" cy="665.3" r="3.1" fill="#2ab4e6"/>
<circle cx="767.3" cy="656.2" r="3.1" fill="#2ab4e6"/>
<circle cx="785.1" cy="650.0" r="3.1" fill="#2ab4e6"/>
<circle cx="799.0" cy="644.7" r="3.1" fill="#2ab4e6"/>
<circle cx="842.0" cy="628.3" r="3.1" fill="#2ab4e6"/>
<circle cx="885.1" cy="610.0" r="3.1" fill="#2ab4e6"/>
<circle cx="910.3" cy="598.7" r="3.1" fill="#2ab4e6"/>
<circle cx="928.1" cy="588.2" r="3.1" fill="#2ab4e6"/>
<circle cx="953.3" cy="572.1" r="3.1" fill="#2ab4e6"/>
<circle cx="971.2" cy="557.2" r="3.1" fill="#2ab4e6"/>
<circle cx="985.0" cy="543.7" r="3.1" fill="#2ab4e6"/>
<circle cx="996.4" cy="530.6" r="3.1" fill="#2ab4e6"/>
<circle cx="1000.1" cy="525.5" r="3.1" fill="#2ab4e6"/>
<polyline points="699.0,637.2 742.1,624.2 767.3,616.2 785.1,610.0 799.0,603.1 842.0,584.8 885.1,564.5 910.3,550.7 928.1,537.5 953.3,516.9 971.2,495.5 985.0,474.8" fill="none" stroke="#2a72c0" stroke-width="1.8" stroke-linejoin="round"/>
<circle cx="699.0" cy="637.2" r="3.1" fill="#2a72c0"/>
<circle cx="742.1" cy="624.2" r="3.1" fill="#2a72c0"/>
<circle cx="767.3" cy="616.2" r="3.1" fill="#2a72c0"/>
<circle cx="785.1" cy="610.0" r="3.1" fill="#2a72c0"/>
<circle cx="799.0" cy="603.1" r="3.1" fill="#2a72c0"/>
<circle cx="842.0" cy="584.8" r="3.1" fill="#2a72c0"/>
<circle cx="885.1" cy="564.5" r="3.1" fill="#2a72c0"/>
<circle cx="910.3" cy="550.7" r="3.1" fill="#2a72c0"/>
<circle cx="928.1" cy="537.5" r="3.1" fill="#2a72c0"/>
<circle cx="953.3" cy="516.9" r="3.1" fill="#2a72c0"/>
<circle cx="971.2" cy="495.5" r="3.1" fill="#2a72c0"/>
<circle cx="985.0" cy="474.8" r="3.1" fill="#2a72c0"/>
<polyline points="699.0,626.5 742.1,610.0 767.3,601.3 785.1,594.9 799.0,589.4 842.0,573.8 885.1,551.3 910.3,536.5 928.1,522.0 953.3,497.9 971.2,474.3 979.5,460.5" fill="none" stroke="#2fb35a" stroke-width="1.8" stroke-linejoin="round"/>
<circle cx="699.0" cy="626.5" r="3.1" fill="#2fb35a"/>
<circle cx="742.1" cy="610.0" r="3.1" fill="#2fb35a"/>
<circle cx="767.3" cy="601.3" r="3.1" fill="#2fb35a"/>
<circle cx="785.1" cy="594.9" r="3.1" fill="#2fb35a"/>
<circle cx="799.0" cy="589.4" r="3.1" fill="#2fb35a"/>
<circle cx="842.0" cy="573.8" r="3.1" fill="#2fb35a"/>
<circle cx="885.1" cy="551.3" r="3.1" fill="#2fb35a"/>
<circle cx="910.3" cy="536.5" r="3.1" fill="#2fb35a"/>
<circle cx="928.1" cy="522.0" r="3.1" fill="#2fb35a"/>
<circle cx="953.3" cy="497.9" r="3.1" fill="#2fb35a"/>
<circle cx="971.2" cy="474.3" r="3.1" fill="#2fb35a"/>
<circle cx="979.5" cy="460.5" r="3.1" fill="#2fb35a"/>
<polyline points="699.0,622.4 742.1,606.3 767.3,597.2 785.1,591.0 799.0,585.8 842.0,569.6 885.1,546.2 910.3,530.6 928.1,515.1 953.3,489.2 971.2,463.3 976.8,453.6" fill="none" stroke="#1d7a30" stroke-width="1.8" stroke-linejoin="round"/>
<circle cx="699.0" cy="622.4" r="3.1" fill="#1d7a30"/>
<circle cx="742.1" cy="606.3" r="3.1" fill="#1d7a30"/>
<circle cx="767.3" cy="597.2" r="3.1" fill="#1d7a30"/>
<circle cx="785.1" cy="591.0" r="3.1" fill="#1d7a30"/>
<circle cx="799.0" cy="585.8" r="3.1" fill="#1d7a30"/>
<circle cx="842.0" cy="569.6" r="3.1" fill="#1d7a30"/>
<circle cx="885.1" cy="546.2" r="3.1" fill="#1d7a30"/>
<circle cx="910.3" cy="530.6" r="3.1" fill="#1d7a30"/>
<circle cx="928.1" cy="515.1" r="3.1" fill="#1d7a30"/>
<circle cx="953.3" cy="489.2" r="3.1" fill="#1d7a30"/>
<circle cx="971.2" cy="463.3" r="3.1" fill="#1d7a30"/>
<circle cx="976.8" cy="453.6" r="3.1" fill="#1d7a30"/>
<text x="557.5" y="434.5" font-size="24.3" letter-spacing="1" fill="#1a1a1a" stroke="#1a1a1a" stroke-width="0.35">d)</text>
<text transform="translate(577.5,582.5) rotate(-90)" text-anchor="middle" font-size="24" font-weight="bold" fill="#1a1a1a" stroke="#1a1a1a" stroke-width="0.35">E [V]</text>
<text x="870.5" y="806" text-anchor="middle" font-size="24.5" font-weight="bold" fill="#1a1a1a" stroke="#1a1a1a" stroke-width="0.35">i [A mg<tspan font-size="15.5" dy="6">Ir</tspan><tspan font-size="15.5" dy="-13">−</tspan><tspan font-size="15.5" dy="-3">1</tspan><tspan dy="10">]</tspan></text>
<line x1="1156" y1="521.0" x2="1175.5" y2="521.0" stroke="#e8252a" stroke-width="2"/>
<circle cx="1165.6" cy="521.0" r="3" fill="#e8252a"/>
<text x="1178" y="530.0" font-size="26" letter-spacing="0.5" fill="#1a1a1a" stroke="#1a1a1a" stroke-width="0.35">Initial</text>
<line x1="1156" y1="556.9" x2="1175.5" y2="556.9" stroke="#b8141e" stroke-width="2"/>
<circle cx="1165.6" cy="556.9" r="3" fill="#b8141e"/>
<text x="1178" y="565.9" font-size="26" letter-spacing="0.5" fill="#1a1a1a" stroke="#1a1a1a" stroke-width="0.35">1.6 V</text>
<line x1="1156" y1="592.8" x2="1175.5" y2="592.8" stroke="#2ab4e6" stroke-width="2"/>
<circle cx="1165.6" cy="592.8" r="3" fill="#2ab4e6"/>
<text x="1178" y="601.8" font-size="26" letter-spacing="0.5" fill="#1a1a1a" stroke="#1a1a1a" stroke-width="0.35">1.8 V</text>
<line x1="1156" y1="628.7" x2="1175.5" y2="628.7" stroke="#2a72c0" stroke-width="2"/>
<circle cx="1165.6" cy="628.7" r="3" fill="#2a72c0"/>
<text x="1178" y="637.7" font-size="26" letter-spacing="0.5" fill="#1a1a1a" stroke="#1a1a1a" stroke-width="0.35">2 V</text>
<line x1="1156" y1="664.6" x2="1175.5" y2="664.6" stroke="#2fb35a" stroke-width="2"/>
<circle cx="1165.6" cy="664.6" r="3" fill="#2fb35a"/>
<text x="1178" y="673.6" font-size="26" letter-spacing="0.5" fill="#1a1a1a" stroke="#1a1a1a" stroke-width="0.35">2.2 V</text>
<line x1="1156" y1="700.5" x2="1175.5" y2="700.5" stroke="#1d7a30" stroke-width="2"/>
<circle cx="1165.6" cy="700.5" r="3" fill="#1d7a30"/>
<text x="1178" y="709.5" font-size="26" letter-spacing="0.5" fill="#1a1a1a" stroke="#1a1a1a" stroke-width="0.35">2.5 V</text>
</g></svg>
</body></html>
